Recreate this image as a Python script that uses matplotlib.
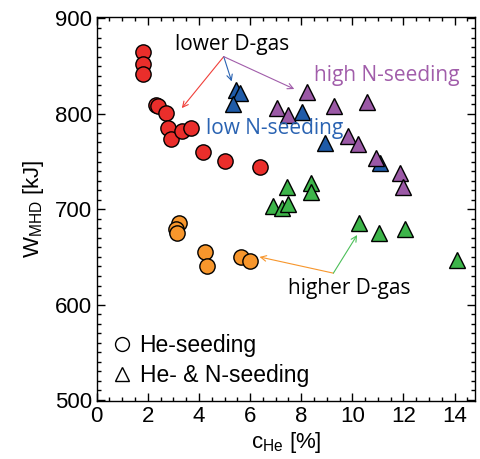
"""
W_MHD vs c_He scatter
"""
import matplotlib.pyplot as plt
from matplotlib.lines import Line2D

plt.rcParams['font.family'] = ['Liberation Sans', 'DejaVu Sans']
plt.rcParams['mathtext.fontset'] = 'custom'
plt.rcParams['mathtext.rm'] = 'Liberation Sans'

# -- data ----------------------
# He-seeding, lower D-gas (red circles)
he_low_x = [1.82, 1.82, 1.82, 2.32, 2.41, 2.71, 2.77, 2.91, 3.32, 3.68, 4.16, 5.01, 6.40]
he_low_y = [865, 852, 842, 809, 808, 801, 785, 774, 782, 785, 760, 751, 744]

# He-seeding, higher D-gas (orange circles)
he_high_x = [3.23, 3.12, 3.15, 4.23, 4.30, 5.64, 6.00]
he_high_y = [686, 679, 675, 655, 641, 650, 646]

# He + low N-seeding (blue triangles)
lown_x = [5.45, 5.60, 5.34, 8.05, 8.95, 11.10]
lown_y = [825, 822, 810, 802, 769, 748]

# He + high N-seeding (purple triangles)
highn_x = [7.05, 7.50, 8.24, 9.28, 10.58, 9.83, 10.22, 10.91, 11.85, 11.98]
highn_y = [806, 799, 823, 808, 812, 777, 768, 754, 738, 723]

# He + N-seeding, higher D-gas (green triangles)
hn_high_x = [6.90, 7.25, 7.48, 7.45, 8.37, 8.40, 10.26, 11.03, 12.05, 14.09]
hn_high_y = [703, 701, 706, 723, 727, 718, 686, 675, 679, 647]

RED = '#EA2E2B'
ORANGE = '#F7962C'
BLUE = '#1F5BA8'
PURPLE = '#9B59A6'
GREEN = '#3DB54A'
BLUE_TXT = '#2A63B2'
PURPLE_TXT = '#A15DAA'

ANN_FONT = ['Open Sans', 'DejaVu Sans']


def main():
    fig = plt.figure(figsize=(4.8, 4.59), dpi=100)
    ax = fig.add_axes([0.2015, 0.1264, 0.788, 0.8355])

    kw = dict(markeredgecolor='black', markeredgewidth=1.0, linestyle='none')
    ax.plot(he_low_x, he_low_y, 'o', ms=11, color=RED, **kw)
    ax.plot(he_high_x, he_high_y, 'o', ms=11, color=ORANGE, **kw)
    ax.plot(hn_high_x, hn_high_y, '^', ms=11, color=GREEN, **kw)
    ax.plot(lown_x, lown_y, '^', ms=11, color=BLUE, **kw)
    ax.plot(highn_x, highn_y, '^', ms=11, color=PURPLE, **kw)

    # annotations
    ax.text(5.28, 873, 'lower D-gas', ha='center', va='center',
            fontsize=15, family=ANN_FONT, color='black')
    start = (4.97, 860)
    for end, col in [((3.33, 806), '#F0403A'), ((5.28, 834), BLUE_TXT),
                     ((7.73, 826), PURPLE_TXT)]:
        ax.annotate('', xy=end, xytext=start,
                    arrowprops=dict(arrowstyle='->', color=col, lw=0.8,
                                    shrinkA=0, shrinkB=0))
    ax.text(11.36, 840, 'high N-seeding', ha='center', va='center',
            fontsize=15, family=ANN_FONT, color=PURPLE_TXT)
    ax.text(6.95, 785, 'low N-seeding', ha='center', va='center',
            fontsize=15, family=ANN_FONT, color=BLUE_TXT)

    ax.text(9.88, 617, 'higher D-gas', ha='center', va='center',
            fontsize=15, family=ANN_FONT, color='black')
    start = (9.26, 633)
    for end, col in [((6.37, 650), ORANGE), ((10.19, 673), '#4CBF59')]:
        ax.annotate('', xy=end, xytext=start,
                    arrowprops=dict(arrowstyle='->', color=col, lw=0.8,
                                    shrinkA=0, shrinkB=0))

    # legend
    handles = [Line2D([], [], marker='o', ms=10, mfc='white', mec='black',
                      mew=1.0, ls='none'),
               Line2D([], [], marker='^', ms=10, mfc='white', mec='black',
                      mew=1.0, ls='none')]
    ax.legend(handles, ['He-seeding', 'He- & N-seeding'], loc='lower left',
              bbox_to_anchor=(-0.005, -0.005), frameon=False, fontsize=16.5,
              handlelength=1.0, handletextpad=0.25, labelspacing=0.3,
              borderaxespad=0.3)

    ax.set_xlim(0, 14.8)
    ax.set_ylim(499, 901)
    ax.set_xticks(range(0, 15, 2))
    ax.set_xticks([i * 0.5 for i in range(30)], minor=True)
    ax.set_yticks(range(500, 901, 100))
    ax.set_yticks(range(500, 901, 10), minor=True)
    ax.tick_params(which='both', direction='in', top=True, right=True,
                   labelsize=16, width=1.0)
    ax.tick_params(which='major', length=6)
    ax.tick_params(which='minor', length=3)
    for s in ax.spines.values():
        s.set_linewidth(1.0)

    ax.set_xlabel(r'c$_\mathregular{He}$ [%]', fontsize=16, labelpad=2)
    ax.set_ylabel(r'W$_\mathregular{MHD}$ [kJ]', fontsize=16, labelpad=6)

    fig.savefig('out.png', dpi=100)


main()
